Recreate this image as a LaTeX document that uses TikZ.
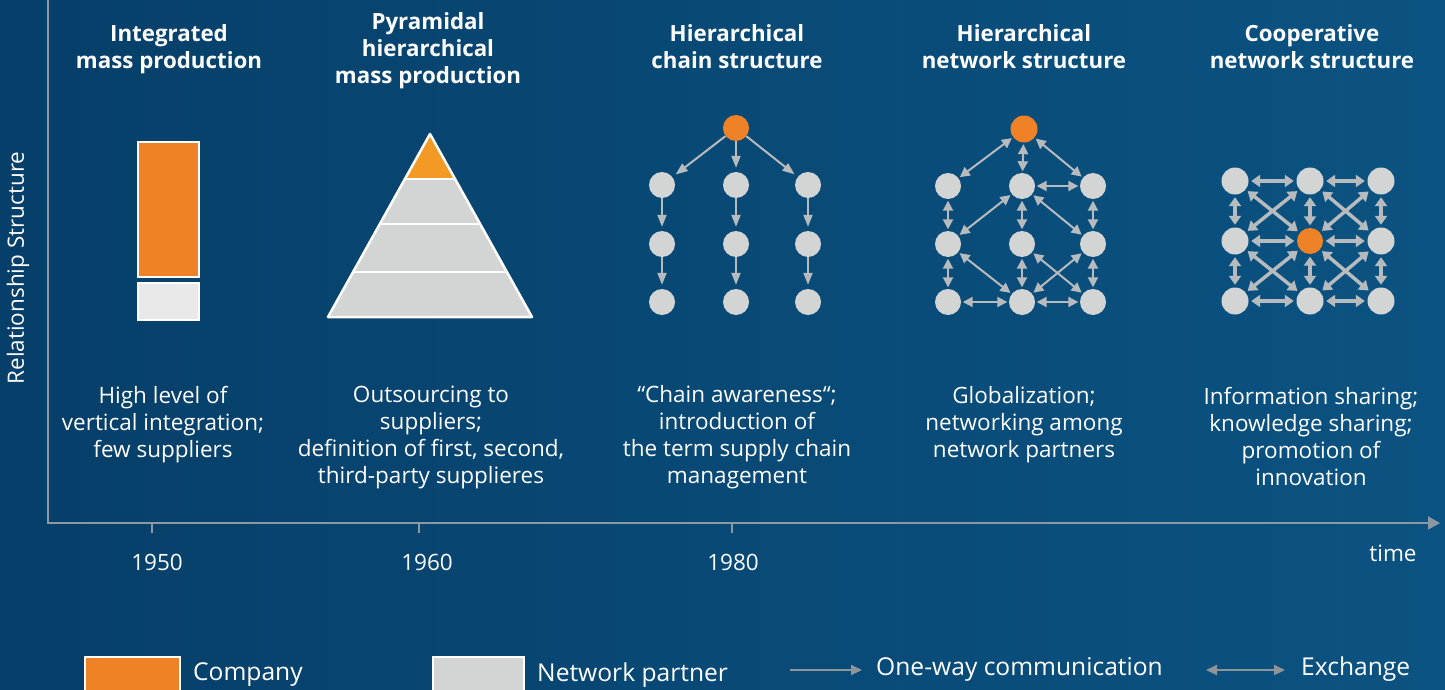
\documentclass[tikz,border=0pt]{standalone}
\usepackage{fontspec}
\setmainfont{Open Sans}
\usetikzlibrary{arrows.meta, positioning}
\definecolor{bgleft}{HTML}{063F69}
\definecolor{bgright}{HTML}{0B5382}
\definecolor{orangeco}{HTML}{EF8227}
\definecolor{orangetop}{HTML}{F39A26}
\definecolor{greypart}{HTML}{D3D5D4}
\definecolor{greylight}{HTML}{E9E9EA}
\definecolor{arrowgrey}{HTML}{B7BBBD}
\definecolor{axisgrey}{HTML}{8C99A3}
\definecolor{leggrey}{HTML}{8E9497}

\begin{document}
\begin{tikzpicture}[x=1pt, y=-1pt]
	\tikzstyle{company} = [circle, fill=orangeco, inner sep=0pt, minimum size=26pt]
	\tikzstyle{partner} = [circle, fill=greypart, inner sep=0pt, minimum size=26pt]
	\tikzstyle{oneway} = [draw=arrowgrey, line width=2pt, -{Triangle[length=12pt, width=9pt]}, shorten >=4pt]
	\tikzstyle{exch} = [draw=arrowgrey, line width=2pt, {Triangle[length=10pt, width=10pt]}-{Triangle[length=10pt, width=10pt]}, shorten >=1.5pt, shorten <=1.5pt]
	\tikzstyle{coop} = [draw=arrowgrey, line width=3.5pt, {Triangle[length=9pt, width=12pt]}-{Triangle[length=9pt, width=12pt]}, shorten >=2.5pt, shorten <=2.5pt]
	\tikzstyle{title} = [text=white, font=\bfseries\fontsize{22.3}{27}\selectfont, align=center, inner sep=0pt]
	\tikzstyle{desc} = [text=white, font=\fontsize{22.5}{27}\selectfont, align=center, inner sep=0pt]
	\tikzstyle{axis} = [draw=axisgrey, line width=1.5pt]
	\tikzstyle{legtext} = [text=white, font=\fontsize{24.6}{28}\selectfont, inner sep=0pt, anchor=west]
	\tikzstyle{legarrow} = [draw=leggrey, line width=2pt]

	% background
	\useasboundingbox (0,0) rectangle (1445,690);
	\shade[left color=bgleft, right color=bgright] (0,0) rectangle (1445,690);

	% axes
	\coordinate (ytop) at (48,0); \coordinate (origin) at (48,523); \coordinate (xend) at (1440,523);
	\draw[axis, -{Triangle[length=12pt, width=13pt]}] (ytop) -- (origin) -- (xend);
	\coordinate (t50) at (152,523); \coordinate (t60) at (419,523); \coordinate (t80) at (732,523);
	\draw[axis] (t50) -- ++(0,10); \draw[axis] (t60) -- ++(0,10); \draw[axis] (t80) -- ++(0,10);
	\node[desc] (y50) at (157,562) {1950}; \node[desc] (y60) at (427,562) {1960}; \node[desc] (y80) at (733,562) {1980};
	\node[desc] (time) at (1393,553) {time};
	\node[desc, font=\fontsize{22.5}{27}\selectfont, rotate=90] (ylabel) at (18,268) {Relationship Structure};

	% titles
	\node[title] (ti1) at (169,49) {Integrated\\mass production};
	\node[title] (ti2) at (428,51) {Pyramidal\\hierarchical\\mass production};
	\node[title] (ti3) at (737,47) {Hierarchical\\chain structure};
	\node[title] (ti4) at (1024,47) {Hierarchical\\network structure};
	\node[title] (ti5) at (1312,47) {Cooperative\\network structure};

	% descriptions
	\node[desc] (de1) at (163,425) {High level of\\vertical integration;\\few suppliers};
	\node[desc] (de2) at (431,437.5) {Outsourcing to\\suppliers;\\definition of first, second,\\third-party supplieres};
	\node[desc] (de3) at (737,437.5) {``Chain awareness``;\\introduction of\\the term supply chain\\management};
	\node[desc] (de4) at (1024,425) {Globalization;\\networking among\\network partners};
	\node[desc] (de5) at (1311,436) {Information sharing;\\knowledge sharing;\\promotion of\\innovation};

	% integrated block
	\draw[white, line width=2pt, fill=orangeco] (138,142) rectangle (199,277);
	\draw[white, line width=2pt, fill=greylight] (138,283) rectangle (199,320);

	% pyramid
	\fill[greypart] (430,134) -- (532,317) -- (328,317) -- cycle;
	\fill[orangetop] (430,134) -- (455.1,179) -- (404.9,179) -- cycle;
	\draw[white, line width=2.5pt, line join=round] (430,134) -- (532,317) -- (328,317) -- cycle;
	\draw[white, line width=2.5pt] (404.9,179) -- (455.1,179); \draw[white, line width=2.5pt] (379.8,224) -- (480.2,224); \draw[white, line width=2.5pt] (353.1,272) -- (506.9,272);

	% chain structure
	\node[company] (ch0) at (736,128) {};
	\node[partner] (ch11) at (662,185) {}; \node[partner] (ch12) at (736,185) {}; \node[partner] (ch13) at (808,185) {};
	\node[partner] (ch21) at (662,244) {}; \node[partner] (ch22) at (736,244) {}; \node[partner] (ch23) at (808,244) {};
	\node[partner] (ch31) at (662,302) {}; \node[partner] (ch32) at (736,302) {}; \node[partner] (ch33) at (808,302) {};
	\draw[oneway] (ch0) -- (ch11); \draw[oneway] (ch0) -- (ch12); \draw[oneway] (ch0) -- (ch13);
	\draw[oneway] (ch11) -- (ch21); \draw[oneway] (ch12) -- (ch22); \draw[oneway] (ch13) -- (ch23);
	\draw[oneway] (ch21) -- (ch31); \draw[oneway] (ch22) -- (ch32); \draw[oneway] (ch23) -- (ch33);

	% hierarchical network
	\node[company, minimum size=27pt] (hn0) at (1024,129) {};
	\node[partner] (hn11) at (948,186) {}; \node[partner] (hn12) at (1022,186) {}; \node[partner] (hn13) at (1093,186) {};
	\node[partner] (hn21) at (948,244) {}; \node[partner] (hn22) at (1022,244) {}; \node[partner] (hn23) at (1093,244) {};
	\node[partner] (hn31) at (948,302) {}; \node[partner] (hn32) at (1022,302) {}; \node[partner] (hn33) at (1093,302) {};
	\draw[exch] (hn0) -- (hn11); \draw[exch] (hn0) -- (hn12); \draw[exch] (hn0) -- (hn13); \draw[exch] (hn12) -- (hn13);
	\draw[exch] (hn11) -- (hn21); \draw[exch] (hn12) -- (hn22); \draw[exch] (hn13) -- (hn23);
	\draw[exch] (hn12) -- (hn21); \draw[exch] (hn12) -- (hn23);
	\draw[exch] (hn21) -- (hn31); \draw[exch] (hn22) -- (hn32); \draw[exch] (hn23) -- (hn33);
	\draw[exch] (hn21) -- (hn32); \draw[exch] (hn22) -- (hn33); \draw[exch] (hn23) -- (hn32);
	\draw[exch] (hn31) -- (hn32); \draw[exch] (hn32) -- (hn33);

	% cooperative network
	\node[partner, minimum size=27pt] (cn11) at (1235,181) {}; \node[partner, minimum size=27pt] (cn12) at (1310,181) {}; \node[partner, minimum size=27pt] (cn13) at (1381,181) {};
	\node[partner, minimum size=27pt] (cn21) at (1235,241) {}; \node[company] (cn22) at (1310,241) {}; \node[partner, minimum size=27pt] (cn23) at (1381,241) {};
	\node[partner, minimum size=27pt] (cn31) at (1235,301) {}; \node[partner, minimum size=27pt] (cn32) at (1310,301) {}; \node[partner, minimum size=27pt] (cn33) at (1381,301) {};
	\draw[coop] (cn11) -- (cn12); \draw[coop] (cn12) -- (cn13); \draw[coop] (cn21) -- (cn22); \draw[coop] (cn22) -- (cn23); \draw[coop] (cn31) -- (cn32); \draw[coop] (cn32) -- (cn33);
	\draw[coop] (cn11) -- (cn21); \draw[coop] (cn21) -- (cn31); \draw[coop] (cn12) -- (cn22); \draw[coop] (cn22) -- (cn32); \draw[coop] (cn13) -- (cn23); \draw[coop] (cn23) -- (cn33);
	\draw[coop] (cn11) -- (cn22); \draw[coop] (cn12) -- (cn21); \draw[coop] (cn12) -- (cn23); \draw[coop] (cn13) -- (cn22);
	\draw[coop] (cn21) -- (cn32); \draw[coop] (cn22) -- (cn31); \draw[coop] (cn22) -- (cn33); \draw[coop] (cn23) -- (cn32);

	% legend
	\node[draw=white, line width=2pt, fill=orangeco, minimum width=95pt, minimum height=36pt, inner sep=0pt] (legco) at (132.5,675) {};
	\node[legtext, right=12pt of legco] (legcotext) {Company};
	\node[draw=white, line width=2pt, fill=greypart, minimum width=91pt, minimum height=36pt, inner sep=0pt] (legnp) at (478.5,675) {};
	\node[legtext, right=12pt of legnp] (legnptext) {Network partner};
	\coordinate (ow1) at (790,670); \coordinate (ow2) at (862,670);
	\draw[legarrow, -{Triangle[length=11pt, width=10pt]}] (ow1) -- (ow2);
	\node[legtext] (owtext) at (876,669) {One-way communication};
	\coordinate (ex1) at (1206,670); \coordinate (ex2) at (1285,670);
	\draw[legarrow, {Triangle[length=11pt, width=10pt]}-{Triangle[length=11pt, width=10pt]}] (ex1) -- (ex2);
	\node[legtext] (extext) at (1301,669) {Exchange};
\end{tikzpicture}
\end{document}
